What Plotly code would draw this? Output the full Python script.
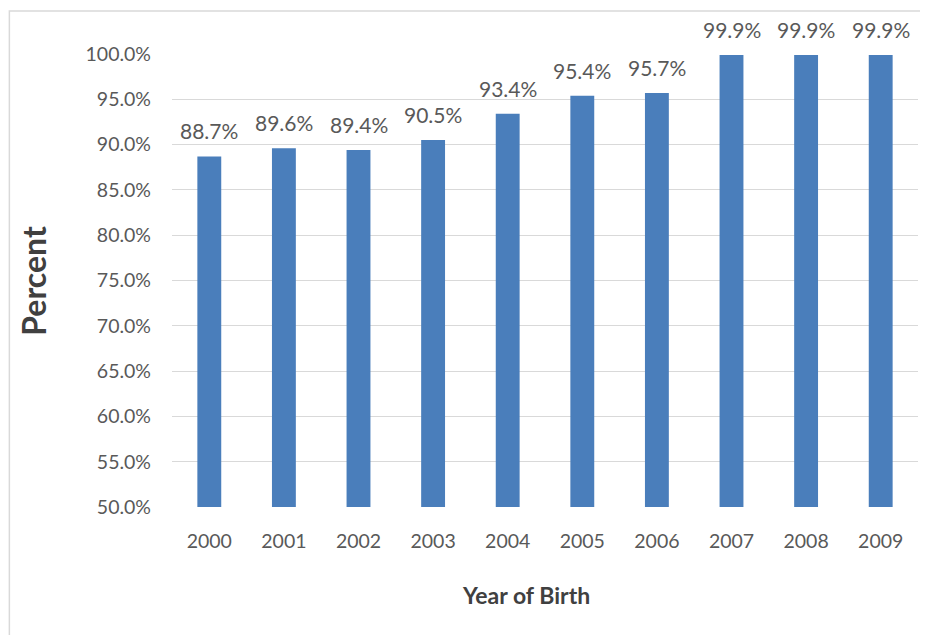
import plotly.graph_objects as go

years = ["2000", "2001", "2002", "2003", "2004", "2005", "2006", "2007", "2008", "2009"]
percent = [88.7, 89.6, 89.4, 90.5, 93.4, 95.4, 95.7, 99.9, 99.9, 99.9]
y_ticks = [50, 55, 60, 65, 70, 75, 80, 85, 90, 95, 100]

FONT = "Lato"
GRAY = "#595959"
BAR = "#4A7EBB"

fig = go.Figure()
fig.add_trace(go.Bar(x=years, y=percent, marker_color=BAR, marker_line_width=0,
                     hoverinfo="skip"))

for i, v in enumerate(percent):
    fig.add_annotation(x=i, y=v, text=f"{v:.1f}%", showarrow=False,
                       yanchor="bottom", yshift=11,
                       font=dict(family=FONT, size=21, color=GRAY))

fig.add_annotation(text="<b>Percent</b>", textangle=-90, xref="paper", yref="paper",
                   x=-0.186, y=0.5, showarrow=False, xanchor="center", yanchor="middle",
                   font=dict(family=FONT, size=32, color="#404040"))
fig.add_annotation(text="<b>Year of Birth</b>", xref="paper", yref="paper",
                   x=0.475, y=-0.195, showarrow=False, xanchor="center", yanchor="middle",
                   font=dict(family=FONT, size=23, color="#404040"))

fig.add_shape(type="rect", xref="paper", yref="paper", x0=-0.218, y0=-0.4, x1=1.05, y1=1.095,
              line=dict(color="#D9D9D9", width=1.5), fillcolor="rgba(0,0,0,0)", layer="below")

fig.update_layout(
    width=928, height=635,
    margin=dict(l=164, r=18, t=46, b=136),
    paper_bgcolor="white", plot_bgcolor="white",
    bargap=0.68, showlegend=False,
    font=dict(family=FONT, size=19.5, color=GRAY),
)
fig.update_xaxes(type="category", categoryorder="array", categoryarray=years,
                 showgrid=False, showline=False, ticks="",
                 ticklabelstandoff=20, tickfont=dict(family=FONT, size=19.5, color=GRAY))
fig.update_yaxes(range=[50, 100], tickvals=y_ticks, ticktext=[f"{t:.1f}%" for t in y_ticks],
                 showgrid=True, gridcolor="#D9D9D9", gridwidth=1, zeroline=False,
                 showline=False, ticks="", ticklabelstandoff=20,
                 tickfont=dict(family=FONT, size=19.5, color=GRAY))

fig.write_html("out.html")
